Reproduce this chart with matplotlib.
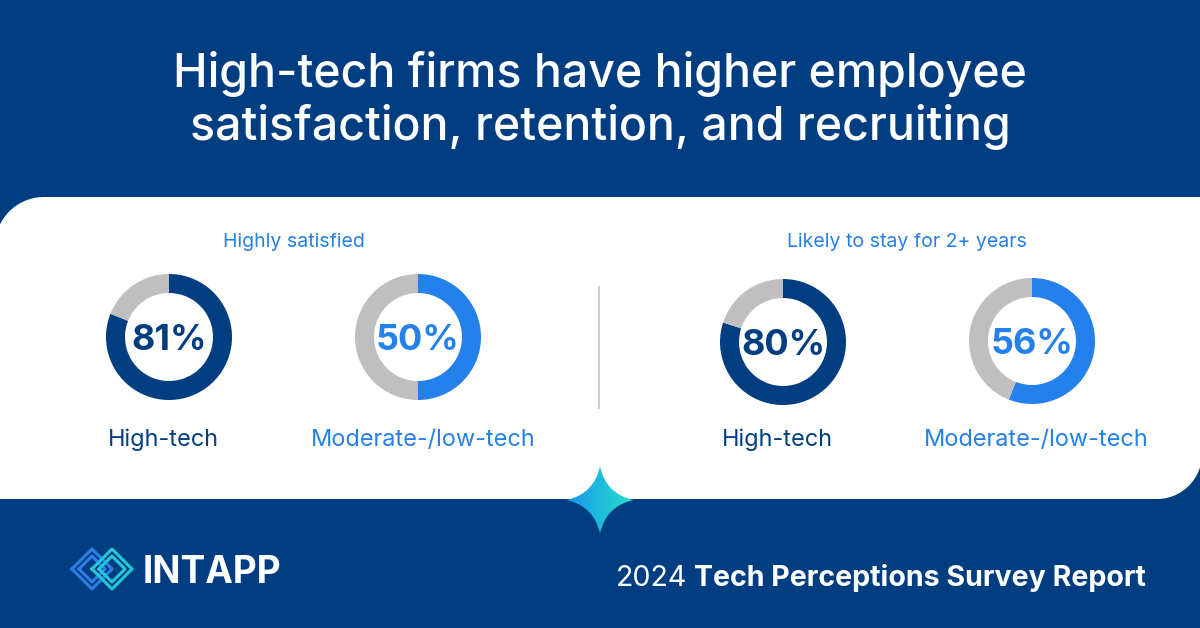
import numpy as np
import matplotlib
matplotlib.use("Agg")
import matplotlib.pyplot as plt
from matplotlib.path import Path
from matplotlib.patches import PathPatch

# ---- data ----
groups = ["Highly satisfied", "Likely to stay for 2+ years"]
segments = ["High-tech", "Moderate-/low-tech"]
shares = [[81, 50], [80, 56]]
title = "High-tech firms have higher employee\nsatisfaction, retention, and recruiting"
brand = "INTAPP"
report_year = "2024"
report_name = "Tech Perceptions Survey Report"

# ---- style ----
W, H = 1200, 628
NAVY = "#013D81"
BLUE = "#2480EA"
GREY = "#BFBFBF"
FONT = ["Inter", "DejaVu Sans"]
plt.rcParams["font.family"] = FONT

def Y(y):  # pixel-from-top -> data y
    return H - y

def pt(px):
    return px * 0.72

fig = plt.figure(figsize=(W / 100, H / 100), dpi=100)
fig.patch.set_facecolor(NAVY)
ax = fig.add_axes([0, 0, 1, 1])
ax.set_xlim(0, W); ax.set_ylim(0, H)
ax.axis("off")

# white panel: rounded top-left and bottom-right corners
def arc(cx, cy, r, a0, a1, n=30):
    t = np.radians(np.linspace(a0, a1, n))
    return np.c_[cx + r * np.cos(t), cy + r * np.sin(t)]

top, bot, left, right = Y(197), Y(499), -5, 1202
r1, r2 = 49, 45
pts = np.vstack([
    [[left, bot]],
    [[left, top - r1]],
    arc(left + r1, top - r1, r1, 180, 90),
    [[right + 10, top]],
    [[right + 10, bot + r2 + 5]],
    [[right, bot + r2]],
    arc(right - r2, bot + r2, r2, 0, -90),
    [[left, bot]],
])
ax.add_patch(PathPatch(Path(pts), facecolor="white", edgecolor="none", zorder=1))

# title
for line, base in zip(title.split("\n"), (87, 140)):
    ax.text(W / 2, Y(base), line, ha="center", va="baseline", color="white",
            fontsize=pt(46.5), fontweight="medium", zorder=5)

# donuts
centers = [[(169, 337), (418, 337)], [(783, 342), (1032, 341)]]
label_x = [[163, 423], [777, 1036]]
group_x = [294, 907]
for g, grp in enumerate(groups):
    ax.text(group_x[g], Y(247), grp, ha="center", va="baseline", color=BLUE,
            fontsize=pt(19.5), zorder=5)
    for s, seg in enumerate(segments):
        v = shares[g][s]
        col = NAVY if s == 0 else BLUE
        cx, cy = centers[g][s]
        ax.pie([v, 100 - v], colors=[col, GREY], startangle=90, counterclock=False,
               center=(cx, Y(cy)), radius=63, wedgeprops=dict(width=19, linewidth=0),
               frame=True)
        ax.text(cx, Y(cy + 13), f"{v}%", ha="center", va="baseline", color=col,
                fontsize=pt(36), fontweight="bold", zorder=5)
        ax.text(label_x[g][s], Y(446), seg, ha="center", va="baseline", color=col,
                fontsize=pt(23.5), zorder=5)

ax.set_xlim(0, W); ax.set_ylim(0, H)
ax.set_aspect("auto")
ax.axis("off")

# divider
ax.plot([599, 599], [Y(287), Y(408)], color="#CCCCCC", lw=1.5, zorder=3)

# sparkle with gradient
sx, sy, sr = 600, Y(500), 33.5
k = 0.18
verts = [(sx, sy + sr),
         (sx + k * sr, sy + k * sr), (sx + sr, sy),
         (sx + k * sr, sy - k * sr), (sx, sy - sr),
         (sx - k * sr, sy - k * sr), (sx - sr, sy),
         (sx - k * sr, sy + k * sr), (sx, sy + sr)]
codes = [Path.MOVETO] + [Path.CURVE3] * 8
star = PathPatch(Path(verts, codes), facecolor="none", edgecolor="none", zorder=6)
ax.add_patch(star)
grad = np.linspace(0, 1, 64)[None, :] * np.ones((64, 1))
cmap = matplotlib.colors.LinearSegmentedColormap.from_list("sp", ["#1A96E8", "#22E2CC"])
im = ax.imshow(grad, extent=[sx - sr, sx + sr, sy - sr, sy + sr], cmap=cmap,
               origin="lower", zorder=6, aspect="auto")
im.set_clip_path(star)

# logo: two double-outlined diamonds
def diamond(cx, cy, r):
    return [cx - r, cx, cx + r, cx, cx - r], [cy, cy + r, cy, cy - r, cy]

for cx, col in [(92, "#2C7FE6"), (112, "#24C7D6")]:
    for r in (20, 13):
        xs, ys = diamond(cx, Y(569), r)
        ax.plot(xs, ys, color=col, lw=2.2, solid_joinstyle="round", zorder=6)
ax.text(143, Y(583), brand, ha="left", va="baseline", color="white",
        fontsize=pt(37), fontweight="bold", zorder=6)

# report name
t_bold = ax.text(1146, Y(586), report_name, ha="right", va="baseline", color="white",
                 fontsize=pt(28.6), fontweight="bold", zorder=6)
fig.canvas.draw()
bb = t_bold.get_window_extent(fig.canvas.get_renderer())
ax.text(bb.x0 - 7, Y(586), report_year, ha="right", va="baseline", color="white",
        fontsize=pt(28.6), zorder=6)

fig.savefig("out.png", dpi=100, facecolor=NAVY)
